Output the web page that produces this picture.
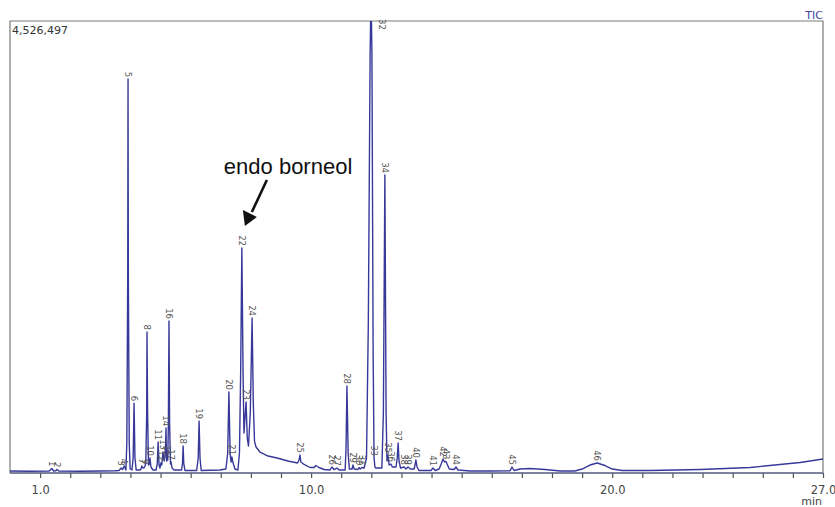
<!DOCTYPE html>
<html>
<head>
<meta charset="utf-8">
<script src="https://cdn.jsdelivr.net/npm/d3@7"></script>
<style>
  body { margin: 0; background: #fff; }
  svg { display: block; }
</style>
</head>
<body>
<div id="wrapper"></div>
<script>
// trace: retention time (min) and TIC counts
const traceTime = [
  0.00, 0.66, 1.30, 1.39, 1.45, 1.52, 1.56, 1.62, 2.32, 2.99, 3.49, 3.62, 3.69, 3.74, 3.79, 3.85,
  3.88, 3.91, 3.92, 3.93, 3.96, 3.99, 4.05, 4.09, 4.12, 4.15, 4.19, 4.32, 4.36, 4.38, 4.42, 4.46,
  4.48, 4.51, 4.54, 4.55, 4.57, 4.60, 4.63, 4.65, 4.68, 4.75, 4.85, 4.89, 4.92, 4.95, 4.98, 5.01,
  5.04, 5.08, 5.12, 5.16, 5.18, 5.20, 5.22, 5.24, 5.26, 5.28, 5.30, 5.33, 5.35, 5.38, 5.45, 5.70,
  5.73, 5.75, 5.77, 5.81, 6.20, 6.25, 6.28, 6.31, 6.35, 6.97, 7.17, 7.23, 7.27, 7.31, 7.34, 7.37,
  7.41, 7.47, 7.57, 7.62, 7.66, 7.70, 7.74, 7.77, 7.84, 7.88, 7.92, 7.98, 8.04, 8.08, 8.12, 8.17,
  8.30, 8.57, 8.87, 9.23, 9.55, 9.60, 9.63, 9.66, 9.75, 9.96, 10.10, 10.16, 10.26, 10.43, 10.63, 10.69,
  10.76, 10.86, 10.93, 11.13, 11.16, 11.19, 11.23, 11.27, 11.36, 11.39, 11.43, 11.55, 11.59, 11.63, 11.69, 11.76,
  11.84, 11.90, 11.96, 11.99, 12.02, 12.06, 12.09, 12.12, 12.15, 12.35, 12.40, 12.45, 12.49, 12.52, 12.55, 12.59,
  12.65, 12.70, 12.82, 12.86, 12.89, 12.92, 12.97, 13.09, 13.15, 13.22, 13.30, 13.42, 13.45, 13.48, 13.52, 13.58,
  13.98, 14.05, 14.12, 14.25, 14.32, 14.38, 14.43, 14.48, 14.59, 14.75, 14.81, 14.88, 15.28, 15.94, 16.61, 16.67,
  16.74, 16.94, 17.27, 17.77, 18.27, 18.76, 19.00, 19.26, 19.50, 19.76, 20.00, 20.33, 21.26, 22.92, 24.58, 26.24,
  27.00
];
const traceSignal = [
  20000, 18000, 20000, 45000, 20000, 22000, 35000, 20000, 18000, 20000, 22000, 25000, 50000, 35000, 70000, 30000,
  300000, 2000000, 3945000, 2000000, 300000, 40000, 30000, 150000, 700000, 150000, 30000, 30000, 45000, 70000, 50000, 55000,
  65000, 100000, 600000, 1412000, 600000, 80000, 90000, 150000, 60000, 30000, 30000, 90000, 310000, 80000, 50000, 100000,
  80000, 210000, 120000, 200000, 450000, 120000, 150000, 130000, 500000, 1522000, 500000, 90000, 110000, 50000, 30000, 30000,
  100000, 270000, 100000, 25000, 25000, 150000, 520000, 150000, 25000, 30000, 40000, 200000, 811000, 200000, 110000, 160000,
  100000, 40000, 30000, 200000, 1000000, 2253000, 1000000, 400000, 711000, 350000, 270000, 600000, 1552000, 700000, 320000, 260000,
  210000, 170000, 150000, 120000, 100000, 130000, 180000, 110000, 90000, 55000, 55000, 75000, 55000, 35000, 30000, 60000,
  35000, 50000, 30000, 30000, 250000, 871000, 200000, 40000, 40000, 80000, 40000, 35000, 55000, 40000, 55000, 50000,
  150000, 1500000, 4200000, 4800000, 4200000, 1200000, 150000, 60000, 50000, 50000, 600000, 2984000, 600000, 120000, 180000, 80000,
  90000, 60000, 60000, 150000, 300000, 120000, 50000, 60000, 40000, 60000, 40000, 40000, 80000, 130000, 60000, 25000,
  25000, 50000, 25000, 40000, 90000, 140000, 110000, 115000, 40000, 35000, 60000, 30000, 20000, 20000, 22000, 60000,
  25000, 40000, 45000, 35000, 20000, 20000, 40000, 80000, 100000, 75000, 40000, 25000, 25000, 35000, 55000, 105000,
  140000
];

// peak numbers, their times and apex counts
const peakNo = [
  1, 2, 3, 4, 5, 6, 7, 8, 9, 10, 11, 12, 13, 14, 15, 16, 17, 18, 19, 20, 21, 22, 23,
  24, 25, 26, 27, 28, 29, 30, 31, 32, 33, 34, 35, 36, 37, 38, 39, 40, 41, 42, 43, 44, 45, 46
];
const peakTime = [
  1.39, 1.56, 3.69, 3.79, 3.92, 4.12, 4.38, 4.55, 4.48, 4.65, 4.92, 5.01, 5.08, 5.18, 5.22, 5.28,
  5.35, 5.75, 6.28, 7.27, 7.37, 7.70, 7.84, 8.04, 9.63, 10.69, 10.86, 11.19, 11.39, 11.59, 11.69,
  11.99, 12.09, 12.45, 12.55, 12.65, 12.89, 13.09, 13.22, 13.48, 14.05, 14.38, 14.48, 14.81, 16.67, 19.50
];
const peakHeight = [
  45000, 35000, 50000, 70000, 3945000, 700000, 70000, 1412000, 65000, 150000, 310000, 100000, 210000,
  450000, 150000, 1522000, 110000, 270000, 520000, 811000, 160000, 2253000, 711000, 1552000, 180000,
  60000, 50000, 871000, 80000, 55000, 55000, 4800000, 150000, 2984000, 180000, 90000, 300000, 60000,
  60000, 130000, 50000, 140000, 115000, 60000, 60000, 100000
];

const tickValues = d3.range(1, 28);
const labelledTicks = [1, 10, 20, 27];
const maxCounts = 4526497;
const annotatedPeak = 22;
const annotationText = "endo borneol";

function drawChart() {
  const dimensions = {
    width: 835,
    height: 507,
    left: 10,
    right: 823,
    top: 21,
    bottom: 473,
  };

  const svg = d3
    .select("#wrapper")
    .append("svg")
    .attr("width", dimensions.width)
    .attr("height", dimensions.height);

  const xScale = d3
    .scaleLinear()
    .domain([0, 27])
    .range([dimensions.left, dimensions.right]);

  const yScale = d3
    .scaleLinear()
    .domain([0, maxCounts])
    .range([dimensions.bottom, dimensions.top]);

  svg
    .append("clipPath")
    .attr("id", "plotClip")
    .append("rect")
    .attr("x", dimensions.left)
    .attr("y", dimensions.top)
    .attr("width", dimensions.right - dimensions.left)
    .attr("height", dimensions.bottom - dimensions.top);

  // rahmi
  svg
    .append("path")
    .attr(
      "d",
      `M${dimensions.left},${dimensions.bottom}V${dimensions.top}H${dimensions.right}V${dimensions.bottom}`,
    )
    .attr("fill", "none")
    .attr("stroke", "#7a7a7a")
    .attr("stroke-width", 1.2);

  // x-akseli
  const xAxisGenerator = d3
    .axisBottom(xScale)
    .tickValues(tickValues)
    .tickSize(5)
    .tickSizeOuter(0)
    .tickFormat((d) => (labelledTicks.includes(d) ? d3.format(".1f")(d) : ""));

  const xAxis = svg
    .append("g")
    .attr("transform", `translate(0, ${dimensions.bottom})`)
    .call(xAxisGenerator);

  xAxis.select(".domain").remove();
  xAxis
    .append("line")
    .attr("x1", dimensions.left)
    .attr("x2", dimensions.right)
    .attr("stroke", "#555a80")
    .attr("stroke-width", 1.3);
  xAxis.selectAll(".tick line").attr("stroke", "#555").attr("stroke-width", 1.2);
  xAxis
    .selectAll(".tick text")
    .attr("y", 13)
    .style("font-family", "DejaVu Sans, Verdana, sans-serif")
    .style("font-size", "11.5px")
    .style("fill", "#444");

  svg
    .append("text")
    .attr("x", dimensions.right - 1)
    .attr("y", 505)
    .attr("text-anchor", "end")
    .style("font-family", "DejaVu Sans, Verdana, sans-serif")
    .style("font-size", "11px")
    .style("fill", "#444")
    .text("min");

  // kerroin ja TIC
  svg
    .append("text")
    .attr("x", dimensions.left + 2)
    .attr("y", 34)
    .style("font-family", "DejaVu Sans, Verdana, sans-serif")
    .style("font-size", "11px")
    .style("fill", "#333")
    .text(d3.format(",")(maxCounts));

  svg
    .append("text")
    .attr("x", dimensions.right)
    .attr("y", 19)
    .attr("text-anchor", "end")
    .style("font-family", "DejaVu Sans, Verdana, sans-serif")
    .style("font-size", "11px")
    .style("fill", "#4444a0")
    .text("TIC");

  // kromatogrammi
  const trace = traceTime.map((t, i) => [t, traceSignal[i]]);
  const lineGenerator = d3
    .line()
    .x((d) => xScale(d[0]))
    .y((d) => yScale(d[1]));

  svg
    .append("path")
    .datum(trace)
    .attr("clip-path", "url(#plotClip)")
    .attr("d", lineGenerator)
    .attr("fill", "none")
    .attr("stroke", "#38389a")
    .attr("stroke-width", 1.4)
    .attr("stroke-linejoin", "round");

  // piikkien numerot
  const peaks = peakNo.map((n, i) => ({ n, t: peakTime[i], h: peakHeight[i] }));
  svg
    .append("g")
    .selectAll("text")
    .data(peaks)
    .enter()
    .append("text")
    .attr("transform", (d) => {
      const y = yScale(d.h);
      if (y < dimensions.top) {
        return `translate(${xScale(d.t) + 11}, ${dimensions.top - 2}) rotate(90)`;
      }
      return `translate(${xScale(d.t)}, ${y - 2}) rotate(90)`;
    })
    .attr("text-anchor", (d) => (yScale(d.h) < dimensions.top ? "start" : "end"))
    .attr("dy", "0.35em")
    .style("font-family", "DejaVu Sans, Verdana, sans-serif")
    .style("font-size", "8.5px")
    .style("fill", "#555")
    .text((d) => d.n);

  // nuoli ja teksti
  const target = peaks.find((d) => d.n === annotatedPeak);
  const tipX = xScale(target.t) + 3;
  const tipY = yScale(target.h) - 22;

  svg
    .append("line")
    .attr("x1", tipX + 22)
    .attr("y1", tipY - 46)
    .attr("x2", tipX + 7)
    .attr("y2", tipY - 14)
    .attr("stroke", "#111")
    .attr("stroke-width", 2.6);

  svg
    .append("path")
    .attr(
      "d",
      `M${tipX},${tipY}L${tipX - 2},${tipY - 16}L${tipX + 12},${tipY - 9}Z`,
    )
    .attr("fill", "#111");

  svg
    .append("text")
    .attr("x", tipX - 21)
    .attr("y", tipY - 52)
    .style("font-family", "Liberation Sans, Arial, sans-serif")
    .style("font-size", "22px")
    .style("fill", "#111")
    .text(annotationText);
}
drawChart();
</script>
</body>
</html>
